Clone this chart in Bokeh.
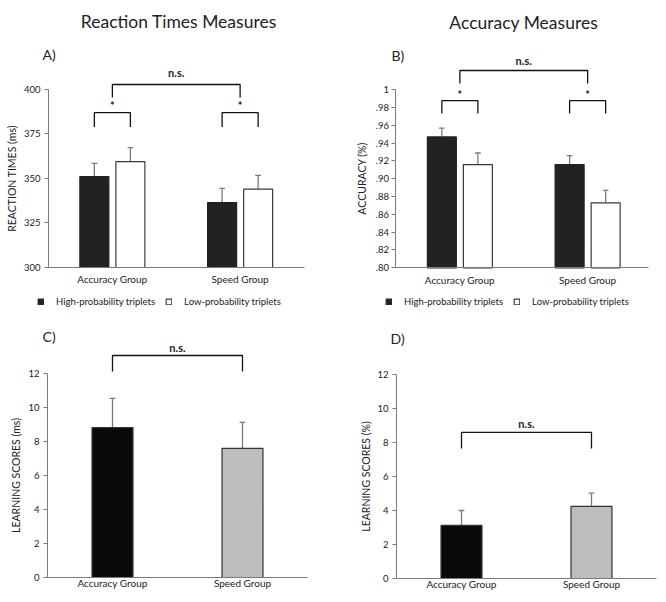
from bokeh.plotting import figure
from bokeh.models import (ColumnDataSource, Range1d, FixedTicker,
                          CustomJSTickFormatter, Label, Legend, LegendItem)
from bokeh.layouts import column, row
from bokeh.embed import file_html
from bokeh.resources import INLINE

# ---------------- data ----------------
groups = ["Accuracy Group", "Speed Group"]
series_names = ["High-probability triplets", "Low-probability triplets"]

rt_high = [351.0, 336.5]
rt_high_err = [7.5, 8.0]
rt_low = [359.5, 344.0]
rt_low_err = [7.8, 7.7]

acc_high = [0.947, 0.916]
acc_high_err = [0.010, 0.010]
acc_low = [0.916, 0.873]
acc_low_err = [0.013, 0.014]

learn_rt = [8.82, 7.60]
learn_rt_err = [1.72, 1.52]
learn_acc = [3.12, 4.24]
learn_acc_err = [0.88, 0.78]
learn_colors = ["#0a0a0a", "#bdbdbd"]

rt_ticks = [300, 325, 350, 375, 400]
acc_ticks = [0.80, 0.82, 0.84, 0.86, 0.88, 0.90, 0.92, 0.94, 0.96, 0.98, 1.0]
learn_ticks = [0, 2, 4, 6, 8, 10, 12]

FONT = "Lato"
TXT = "#222222"
AX = "#7a7a7a"
ERR = "#7a7a7a"

centers = [i + 0.5 for i in range(len(groups))]


def make_fig(w, h, xr, yr, ticks, ybounds, y_at, ylabel,
             tick_standoff, label_standoff, x_label_standoff, xbounds=(0, 2)):
    p = figure(x_range=Range1d(*xr), y_range=Range1d(*yr),
               width=w, height=h,
               min_border_left=0, min_border_right=0,
               min_border_top=0, min_border_bottom=0,
               output_backend="svg", toolbar_location=None, tools="")
    p.outline_line_color = None
    p.xgrid.visible = False
    p.ygrid.visible = False
    ya = p.yaxis[0]
    ya.fixed_location = 0
    ya.ticker = FixedTicker(ticks=ticks)
    ya.bounds = ybounds
    ya.axis_line_color = AX
    ya.major_tick_line_color = AX
    ya.major_tick_out = 4
    ya.major_tick_in = 0
    ya.minor_tick_line_color = None
    ya.major_label_text_font = FONT
    ya.major_label_text_font_size = "9.5px"
    ya.major_label_text_color = TXT
    ya.major_label_standoff = tick_standoff
    ya.axis_label = ylabel
    ya.axis_label_text_font = FONT
    ya.axis_label_text_font_size = "10.5px"
    ya.axis_label_text_font_style = "normal"
    ya.axis_label_text_color = TXT
    ya.axis_label_standoff = label_standoff
    xa = p.xaxis[0]
    xa.fixed_location = y_at
    xa.bounds = xbounds
    xa.ticker = FixedTicker(ticks=centers)
    xa.formatter = CustomJSTickFormatter(args=dict(names=groups),
                                         code="return names[Math.round(tick - 0.5)];")
    xa.axis_line_color = AX
    xa.major_tick_line_color = None
    xa.minor_tick_line_color = None
    xa.major_tick_out = 0
    xa.major_tick_in = 0
    xa.major_label_standoff = x_label_standoff
    xa.major_label_text_font = FONT
    xa.major_label_text_font_size = "10px"
    xa.major_label_text_color = TXT
    return p


def bars(p, vals, errs, offset, width, fill, line, cap, base):
    x = [c + offset for c in centers]
    src = ColumnDataSource(dict(x=x, xl=[v - cap for v in x], xr=[v + cap for v in x],
                                v=vals, t=[a + b for a, b in zip(vals, errs)],
                                c=fill if isinstance(fill, list) else [fill] * len(x)))
    p.segment(x0="x", y0="v", x1="x", y1="t", source=src,
              line_color=ERR, line_width=1.3)
    p.segment(x0="xl", y0="t", x1="xr", y1="t", source=src,
              line_color=ERR, line_width=1.3)
    r = p.vbar(x="x", top="v", bottom=base, width=width, source=src,
               fill_color="c", line_color=line, line_width=1.2)
    return r


def bracket(p, xa, xb, top, bottom):
    p.line(x=[xa, xa, xb, xb], y=[bottom, top, top, bottom],
           line_color="#111111", line_width=1.3)


def label(p, x, y, text, size, align="center", bold=False):
    p.add_layout(Label(x=x, y=y, text=text, text_font=FONT,
                       text_font_size=size, text_align=align,
                       text_baseline="middle", text_color=TXT,
                       text_font_style="bold" if bold else "normal"))


def legend(p, r1, r2, vx, vy):
    lg = Legend(items=[LegendItem(label=series_names[0], renderers=[r1]),
                       LegendItem(label=series_names[1], renderers=[r2])],
                location=(vx, vy), orientation="horizontal",
                glyph_width=7, glyph_height=7, label_standoff=12,
                spacing=10, padding=0, margin=0,
                label_text_font=FONT, label_text_font_size="9.5px",
                label_text_color=TXT, label_height=10,
                border_line_color=None, background_fill_alpha=0)
    p.add_layout(lg)


OFF = 0.141
BW = 0.227
CAP = 0.022
LW = 0.315

# ---------------- Panel A ----------------
pa = make_fig(333, 315, (-0.3757, 2.2309), (273.03, 450.0), rt_ticks, (300, 400), 300,
              "REACTION TIMES (ms)", 4, 3, 6)
ra1 = bars(pa, rt_high, rt_high_err, -OFF, BW, "#222222", "#222222", CAP, 300)
ra2 = bars(pa, rt_low, rt_low_err, OFF, BW, "white", "#3a3a3a", CAP, 300)
bracket(pa, 0.5, 1.5, 402.8, 395.5)
bracket(pa, 0.5 - OFF, 0.5 + OFF, 387.0, 379.0)
bracket(pa, 1.5 - OFF, 1.5 + OFF, 387.0, 379.0)
label(pa, 1.0, 409.6, "n.s.", "11px", bold=True)
label(pa, 0.5, 391.0, "*", "11px", bold=True)
label(pa, 1.5, 391.0, "*", "11px", bold=True)
label(pa, 1.02, 438.2, "Reaction Times Measures", "17.5px")
label(pa, -0.047, 419.7, "A)", "14px", align="left")
legend(pa, ra1, ra2, 37, 8)

# ---------------- Panel B ----------------
pb = make_fig(332, 315, (-0.4892, 2.1096), (0.74640, 1.10034), acc_ticks, (0.80, 1.0), 0.80,
              "ACCURACY (%)", 3, 4, 6, xbounds=(0, 1.98))
pb.yaxis[0].formatter = CustomJSTickFormatter(
    code="return tick > 0.999 ? '1' : '.' + Math.round(tick * 100).toString();")
rb1 = bars(pb, acc_high, acc_high_err, -OFF, BW, "#222222", "#222222", CAP, 0.80)
rb2 = bars(pb, acc_low, acc_low_err, OFF, BW, "white", "#3a3a3a", CAP, 0.80)
bracket(pb, 0.5, 1.5, 1.0217, 1.0071)
bracket(pb, 0.5 - OFF, 0.5 + OFF, 0.9879, 0.9733)
bracket(pb, 1.5 - OFF, 1.5 + OFF, 0.9879, 0.9733)
label(pb, 1.0, 1.0329, "n.s.", "11px", bold=True)
label(pb, 0.5, 0.9950, "*", "11px", bold=True)
label(pb, 1.5, 0.9950, "*", "11px", bold=True)
label(pb, 1.0, 1.0756, "Accuracy Measures", "17.5px")
label(pb, -0.035, 1.0385, "B)", "14px", align="left")
legend(pb, rb1, rb2, 52, 8)

# ---------------- Panel C ----------------
pc = make_fig(333, 286, (-0.3615, 2.2), (-1.412, 15.412), learn_ticks, (0, 12), 0,
              "LEARNING SCORES (ms)", 4, 3, 0)
bars(pc, learn_rt, learn_rt_err, 0, LW, learn_colors, "#333333", CAP, 0)
bracket(pc, 0.5, 1.5, 13.06, 12.12)
label(pc, 1.0, 13.53, "n.s.", "11px", bold=True)
label(pc, -0.038, 14.18, "C)", "14px", align="left")

# ---------------- Panel D ----------------
pd_ = make_fig(332, 286, (-0.4846, 2.0692), (-1.353, 15.47), learn_ticks, (0, 12), 0,
               "LEARNING SCORES (%)", 4, 2, 0)
bars(pd_, learn_acc, learn_acc_err, 0, LW, learn_colors, "#333333", CAP, 0)
bracket(pd_, 0.5, 1.5, 8.59, 7.65)
label(pd_, 1.0, 9.12, "n.s.", "11px", bold=True)
label(pd_, -0.046, 14.12, "D)", "14px", align="left")

layout = column(row(pa, pb, spacing=0), row(pc, pd_, spacing=0), spacing=0)

open("out.html", "w").write(file_html(layout, INLINE))
